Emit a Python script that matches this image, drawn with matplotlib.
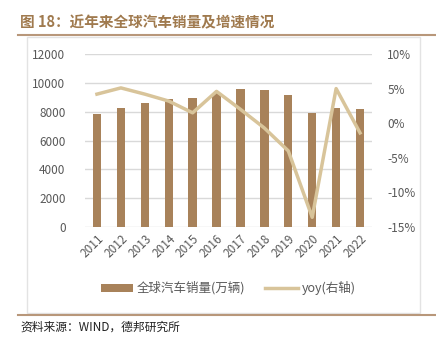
import matplotlib
matplotlib.use("Agg")
import matplotlib.pyplot as plt
from matplotlib.patches import Rectangle, Patch
from matplotlib.lines import Line2D
import numpy as np

plt.rcParams['font.family'] = ['Noto Sans CJK SC', 'DejaVu Sans']

years = ['2011', '2012', '2013', '2014', '2015', '2016', '2017', '2018', '2019', '2020', '2021', '2022']
sales = [7840, 8230, 8570, 8850, 8970, 9270, 9570, 9500, 9150, 7900, 8280, 8160]
yoy = [4.2, 5.1, 4.2, 3.2, 1.5, 4.6, 2.0, -0.7, -4.0, -13.6, 5.0, -1.4]
left_ticks = [0, 2000, 4000, 6000, 8000, 10000, 12000]
right_ticks = [-15, -10, -5, 0, 5, 10]

title = '图 18：近年来全球汽车销量及增速情况'
source = '资料来源：WIND，德邦研究所'
bar_label = '全球汽车销量(万辆)'
line_label = 'yoy(右轴)'

bar_color = '#A8825A'
line_color = '#D8C49A'
title_color = '#A07A4E'
rule_color = '#B8977A'

W, H = 436, 339
fig = plt.figure(figsize=(W / 100, H / 100), dpi=100)

def fx(px):
    return px / W

def fy(py):
    return 1 - py / H

# frame
fig.patches.append(Rectangle((fx(27), fy(313)), fx(420) - fx(27), fy(37) - fy(313),
                             transform=fig.transFigure, fill=False, edgecolor='#E3E3E3', lw=1))
fig.add_artist(Line2D([fx(18), fx(436)], [fy(35), fy(35)], color=rule_color, lw=1.5))
fig.add_artist(Line2D([fx(18), fx(436)], [fy(315), fy(315)], color=rule_color, lw=1.5))

fig.text(fx(20), fy(22), title, color=title_color, fontsize=10.5, fontweight='bold', va='center', ha='left')
fig.text(fx(20), fy(327), source, color='#222222', fontsize=8.5, va='center', ha='left')

ax = fig.add_axes([fx(85), fy(227), fx(372) - fx(85), fy(54) - fy(227)])
x = np.arange(len(years))
ax.bar(x, sales, width=0.35, color=bar_color, zorder=2)
ax.set_ylim(0, 12000)
ax.set_yticks(left_ticks)
ax.set_yticklabels([str(t) for t in left_ticks])
ax.set_xlim(-0.5, len(years) - 0.5)
ax.set_xticks(x)
ax.set_xticklabels(years, rotation=45, ha='right', rotation_mode='anchor')
ax.grid(axis='y', color='#D9D9D9', lw=1, zorder=0)
ax.set_axisbelow(True)
for s in ax.spines.values():
    s.set_visible(False)
ax.tick_params(length=0, labelsize=8.5, labelcolor='#595959')
ax.tick_params(axis='y', pad=14)
ax.tick_params(axis='x', pad=4)

ax2 = ax.twinx()
ax2.plot(x, yoy, color=line_color, lw=2.5, zorder=3)
ax2.set_ylim(-15, 10)
ax2.set_yticks(right_ticks)
ax2.set_yticklabels([f'{t}%' for t in right_ticks])
for s in ax2.spines.values():
    s.set_visible(False)
ax2.tick_params(length=0, labelsize=8.5, labelcolor='#595959', pad=11)

handles = [Patch(facecolor=bar_color, edgecolor='none'), Line2D([0], [0], color=line_color, lw=2.5)]
fig.legend(handles, [bar_label, line_label], loc='center', bbox_to_anchor=(fx(228), fy(288)),
           ncol=2, frameon=False, fontsize=9, handlelength=2.6, handleheight=0.6,
           columnspacing=1.6, labelcolor='#595959', handletextpad=0.3)

fig.savefig('out.png', dpi=100)
